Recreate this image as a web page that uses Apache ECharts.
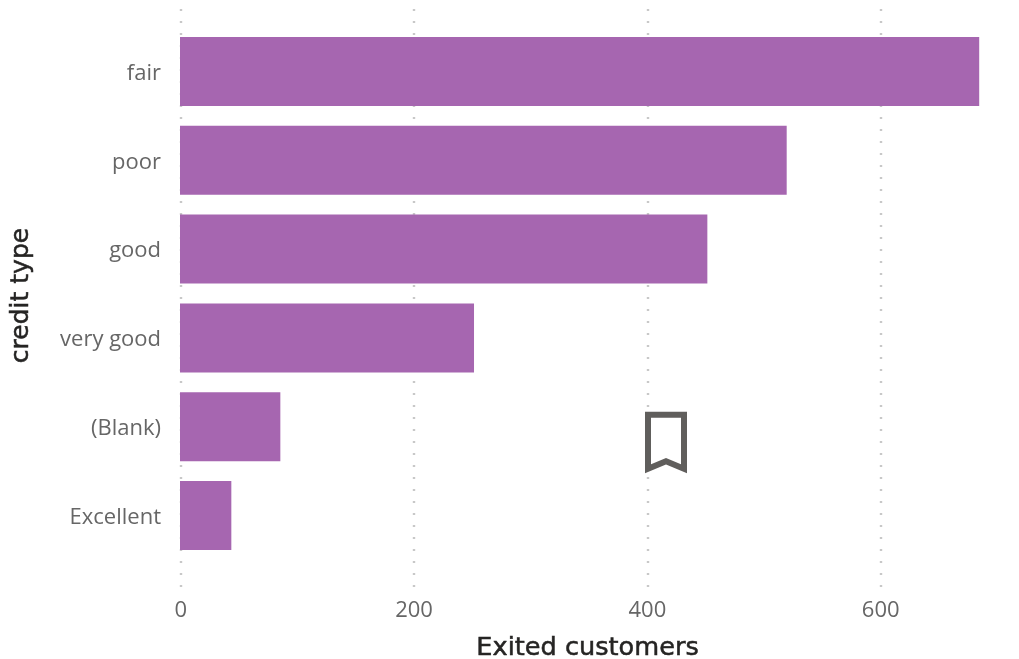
<!DOCTYPE html>
<html><head><meta charset="utf-8">
<script src="https://cdn.jsdelivr.net/npm/echarts@6/dist/echarts.min.js"></script>
<style>html,body{margin:0;padding:0;background:#fff}#c{width:1019px;height:659px}</style>
</head><body><div id="c"></div>
<script>
const categories = ['fair','poor','good','very good','(Blank)','Excellent'];
const exited = [685,520,452,252,86,44];
const axisMax = 700;
const tickLabelFont = '"Open Sans"';
const titleFont = '"DejaVu Sans"';
const titleBase = {fontFamily:titleFont,color:'#252423',textBorderColor:'#252423',textBorderWidth:0.5};
const chart = echarts.init(document.getElementById('c'),null,{renderer:'canvas'});
chart.setOption({
  animation:false,
  grid:[
    {left:180,top:27,width:816.7,height:533,outerBoundsMode:'none'},
    {left:180.7,top:9,width:816.7,height:578,outerBoundsMode:'none'}
  ],
  xAxis:[
    {gridIndex:0,type:'value',min:0,max:axisMax,interval:200,show:false},
    {gridIndex:1,type:'value',min:0,max:axisMax,interval:200,
      name:'Exited customers',nameLocation:'middle',nameGap:48,
      nameTextStyle:Object.assign({fontSize:25.6,padding:[0,3,0,0]},titleBase),
      axisLine:{show:false},axisTick:{show:false},
      axisLabel:{fontFamily:tickLabelFont,fontSize:22,color:'#666',margin:13,showMaxLabel:false},
      splitLine:{show:true,showMaxLine:false,lineStyle:{color:'#c8c8c8',type:[2,10],width:2.4}}}
  ],
  yAxis:[
    {gridIndex:0,type:'category',inverse:true,data:categories,
      name:'credit type',nameLocation:'middle',nameGap:146,
      nameTextStyle:Object.assign({fontSize:25,padding:[0,4,0,0]},titleBase),
      axisLine:{show:false},axisTick:{show:false},
      axisLabel:{fontFamily:tickLabelFont,fontSize:22,color:'#666',margin:19,verticalAlign:'top',lineHeight:4}},
    {gridIndex:1,type:'value',show:false,min:0,max:1}
  ],
  series:[{type:'bar',xAxisIndex:0,yAxisIndex:0,data:exited,barCategoryGap:'22.3%',z:5,itemStyle:{color:'#A666B0'}}],
  graphic:[{type:'polygon',z:10,silent:true,
    shape:{points:[[648,414.7],[684,414.7],[684,468.7],[666,461.3],[648,468.7]]},
    style:{fill:'none',stroke:'#605E5C',lineWidth:6,lineJoin:'miter'}}]
});
</script></body></html>
